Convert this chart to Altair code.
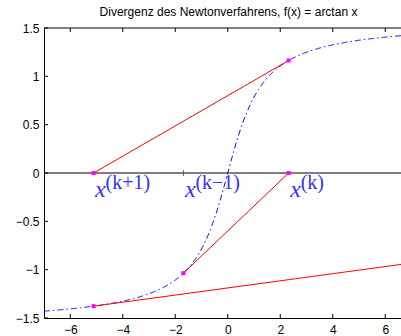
import altair as alt
import numpy as np
import pandas as pd

TITLE = "Divergenz des Newtonverfahrens, f(x) = arctan x"

# Three consecutive Newton iterates for f(x) = arctan x
x_prev = -1.69   # x^(k-1)
x_curr = 2.32    # x^(k)
x_next = -5.11   # x^(k+1)

iterate_x = [x_next, x_prev, x_curr]
iterate_main = ["x", "x", "x"]
iterate_sup = ["(k+1)", "(k\u22121)", "(k)"]

x_ticks = [-6, -4, -2, 0, 2, 4, 6]
y_ticks = [-1.5, -1.0, -0.5, 0.0, 0.5, 1.0, 1.5]

X_DOMAIN = [-7, 6.6]
Y_DOMAIN = [-1.5, 1.5]
W, H = 357, 290


def f(x):
    return float(np.arctan(x))


def fprime(x):
    return 1.0 / (1.0 + x * x)


# f(x) = arctan x on a plotting grid
grid = np.linspace(-7, 7, 561)
curve = pd.DataFrame({"x": grid, "y": np.arctan(grid)})

# tangent segments of the Newton steps
seg_rows = [
    ("a", x_next, 0.0), ("a", x_curr, f(x_curr)),
    ("b", x_prev, f(x_prev)), ("b", x_curr, 0.0),
    ("c", x_next, f(x_next)), ("c", 7.0, f(x_next) + fprime(x_next) * (7.0 - x_next)),
]
segs = pd.DataFrame(seg_rows, columns=["seg", "x", "y"])

pts = pd.DataFrame({
    "x": [x_curr, x_curr, x_next, x_next, x_prev],
    "y": [0.0, f(x_curr), 0.0, f(x_next), f(x_prev)],
})

labels = pd.DataFrame({"x": iterate_x, "y": [0.0] * 3,
                       "main": iterate_main, "sup": iterate_sup})

xs = alt.Scale(domain=X_DOMAIN, nice=False, zero=False)
ys = alt.Scale(domain=Y_DOMAIN, nice=False, zero=False)
x_axis = alt.Axis(values=x_ticks, format="~g", ticks=False, grid=False,
                  labelPadding=6, labelFlush=False, labelOverlap=False,
                  domainColor="black", domainWidth=1)
y_axis = alt.Axis(values=y_ticks, format="~g", ticks=False, grid=False,
                  labelPadding=5, labelFlush=False, labelOverlap=False,
                  domainColor="black", domainWidth=1)


def X(field="x"):
    return alt.X(f"{field}:Q", scale=xs, axis=x_axis, title=None)


def Y(field="y"):
    return alt.Y(f"{field}:Q", scale=ys, axis=y_axis, title=None)


zero_line = alt.Chart(pd.DataFrame({"y": [0.0]})).mark_rule(
    color="black", strokeWidth=1).encode(y=Y())

curve_layer = alt.Chart(curve).mark_line(
    color="#0000ff", strokeWidth=1, strokeDash=[6, 3, 1.5, 3], clip=True
).encode(x=X(), y=Y(), order="x:Q")

seg_layer = alt.Chart(segs).mark_line(
    color="#ff0000", strokeWidth=1, clip=True
).encode(x=X(), y=Y(), detail="seg:N")

pt_layer = alt.Chart(pts).mark_point(
    filled=True, shape="square", size=16, color="#ff00ff", opacity=1
).encode(x=X(), y=Y())

prev_mark = alt.Chart(pd.DataFrame({"x": [x_prev], "y": [0.0]})).mark_tick(
    orient="vertical", size=6, thickness=1, color="#333333"
).encode(x=X(), y=Y())

main_text = alt.Chart(labels).mark_text(
    font="Liberation Serif", fontStyle="italic", fontSize=24, color="#3030ff",
    align="left", baseline="alphabetic", dx=1.5, dy=24
).encode(x=X(), y=Y(), text="main:N")

sup_text = alt.Chart(labels).mark_text(
    font="Liberation Serif", fontSize=20, color="#3030ff",
    align="left", baseline="alphabetic", dx=12, dy=16
).encode(x=X(), y=Y(), text="sup:N")

# inward-pointing tick marks and the top frame line
xt = pd.DataFrame({"x": x_ticks})
yt = pd.DataFrame({"y": y_ticks})
tick_bottom = alt.Chart(xt).mark_rule(color="black", strokeWidth=1).encode(
    x=X(), y=alt.value(H), y2=alt.value(H - 4))
tick_top = alt.Chart(xt).mark_rule(color="black", strokeWidth=1).encode(
    x=X(), y=alt.value(0), y2=alt.value(4))
tick_left = alt.Chart(yt).mark_rule(color="black", strokeWidth=1).encode(
    y=Y(), x=alt.value(0), x2=alt.value(4))
top_frame = alt.Chart(pd.DataFrame({"v": [0]})).mark_rule(
    color="black", strokeWidth=1).encode(
    x=alt.value(0), x2=alt.value(W), y=alt.value(0))

# chart title, centred over the axes
title_layer = alt.Chart(pd.DataFrame({"t": [TITLE]})).mark_text(
    font="Liberation Sans", fontSize=12, color="black",
    align="center", baseline="alphabetic"
).encode(x=alt.value(184.5), y=alt.value(-12), text="t:N")

chart = alt.layer(
    zero_line, curve_layer, seg_layer, prev_mark, pt_layer,
    main_text, sup_text, tick_bottom, tick_top, tick_left, top_frame,
    title_layer
).properties(
    width=W, height=H,
    autosize=alt.AutoSizeParams(type="none"),
    padding={"left": 44, "top": 28, "right": 0, "bottom": 18},
).configure_view(
    stroke=None
).configure_axis(
    labelFont="Liberation Sans", labelFontSize=12, labelColor="black"
)

chart.save("out.html", embed_options={"renderer": "svg", "actions": False})
